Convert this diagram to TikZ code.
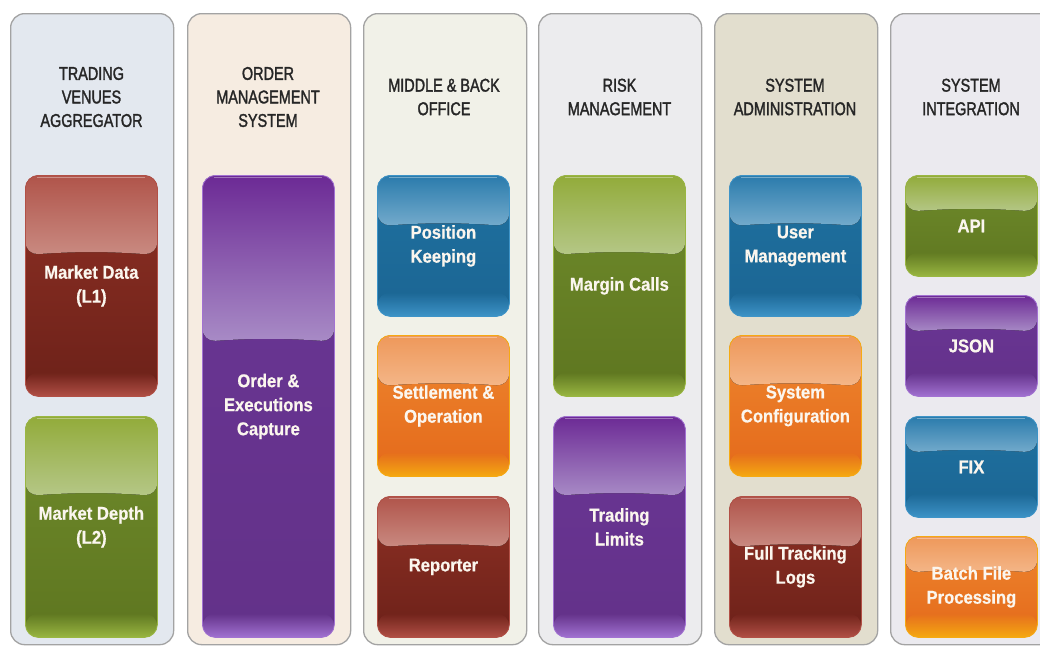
\documentclass[tikz,border=0pt]{standalone}
\usepackage{fontspec}
\newfontfamily\hdfont[FakeStretch=0.78,FakeBold=1.6]{Liberation Sans}
\newfontfamily\bxfont[FakeStretch=0.9,FakeBold=0.6]{Liberation Sans}
\usetikzlibrary{calc,fadings}
% panel colours
\definecolor{pA}{HTML}{E3E8EF}
\definecolor{pB}{HTML}{F6ECE1}
\definecolor{pC}{HTML}{F1F1E8}
\definecolor{pD}{HTML}{ECECEE}
\definecolor{pE}{HTML}{E2DECE}
\definecolor{pF}{HTML}{EBEAEF}
\definecolor{pBorder}{HTML}{A3A3A3}
\definecolor{hdText}{HTML}{262626}
\definecolor{bxText}{HTML}{FBF6EE}
% red
\definecolor{redGa}{HTML}{B0544A}\definecolor{redGb}{HTML}{C98A81}
\definecolor{redBa}{HTML}{8E3024}\definecolor{redBb}{HTML}{6C2119}\definecolor{redGl}{HTML}{B25046}
% green
\definecolor{grnGa}{HTML}{92AB3A}\definecolor{grnGb}{HTML}{B5C787}
\definecolor{grnBa}{HTML}{6F8B2B}\definecolor{grnBb}{HTML}{5E7620}\definecolor{grnGl}{HTML}{9AB742}
% purple
\definecolor{purGa}{HTML}{6C2A95}\definecolor{purGb}{HTML}{A88BC6}
\definecolor{purBa}{HTML}{6A3595}\definecolor{purBb}{HTML}{633289}\definecolor{purGl}{HTML}{A272D2}
% blue
\definecolor{bluGa}{HTML}{2A7BAC}\definecolor{bluGb}{HTML}{74ABCC}
\definecolor{bluBa}{HTML}{1F71A0}\definecolor{bluBb}{HTML}{1B6593}\definecolor{bluGl}{HTML}{3E94C8}
% orange
\definecolor{orgGa}{HTML}{EE985A}\definecolor{orgGb}{HTML}{F4B688}
\definecolor{orgBa}{HTML}{EE862F}\definecolor{orgBb}{HTML}{E4691A}\definecolor{orgGl}{HTML}{F6AA12}

\newcommand\glosspaint[3]{%
  \path (path picture bounding box.north west) coordinate (gnw)
        (path picture bounding box.south east) coordinate (gse);
  \fill[top color=#1, bottom color=#2]
    let \p1=(gnw), \p2=(gse), \n1={\y1+0.36*(\y2-\y1)} in
    (\x1,\y1) -- (\x1,\n1) to[bend left=4] (\x2,\n1) -- (\x2,\y1) -- cycle;
  \fill[#3, path fading=north]
    let \p1=(gnw), \p2=(gse) in
    (\x1,\y2+24pt) rectangle (\x2,\y2);
  \draw[white, opacity=0.35, line width=1pt]
    let \p1=(gnw), \p2=(gse) in
    (\x1+12pt,\y1-2pt) -- (\x2-12pt,\y1-2pt);
}

\tikzset{
  panel/.style={draw=pBorder, line width=1.3pt, rounded corners=14pt, anchor=north west,
    minimum width=163pt, minimum height=631pt, inner sep=0pt},
  hdr/.style={text=hdText, align=center, font=\hdfont\fontsize{18.5}{23.5}\selectfont, inner sep=0pt},
  gbox/.style={rounded corners=13pt, minimum width=132pt, anchor=north west, text=bxText,
    align=center, font=\bxfont\bfseries\fontsize{18.5}{24}\selectfont, inner sep=0pt, line width=0.8pt},
  redbox/.style={gbox, draw=redGl, top color=redBa, bottom color=redBb,
    path picture={\glosspaint{redGa}{redGb}{redGl}}},
  grnbox/.style={gbox, draw=grnGl, top color=grnBa, bottom color=grnBb,
    path picture={\glosspaint{grnGa}{grnGb}{grnGl}}},
  purbox/.style={gbox, draw=purGl, top color=purBa, bottom color=purBb,
    path picture={\glosspaint{purGa}{purGb}{purGl}}},
  blubox/.style={gbox, draw=bluGl, top color=bluBa, bottom color=bluBb,
    path picture={\glosspaint{bluGa}{bluGb}{bluGl}}},
  orgbox/.style={gbox, draw=orgGl, top color=orgBa, bottom color=orgBb,
    path picture={\glosspaint{orgGa}{orgGb}{orgGl}}},
}

\begin{document}
\begin{tikzpicture}[x=1pt, y=-1pt]
\useasboundingbox (0,0) rectangle (1040,646);
\clip (0,0) rectangle (1040,646);
\fill[white] (0,0) rectangle (1040,646);

% panels
\node[panel, fill=pA] (c1) at (10,13) {};
\node[panel, fill=pB] (c2) at (187,13) {};
\node[panel, fill=pC] (c3) at (363,13) {};
\node[panel, fill=pD] (c4) at (538,13) {};
\node[panel, fill=pE] (c5) at (714,13) {};
\node[panel, fill=pF] (c6) at (890,13) {};

% headers
\node[hdr] (h1) at (91.5,97) {TRADING\\VENUES\\AGGREGATOR};
\node[hdr] (h2) at (268,97) {ORDER\\MANAGEMENT\\SYSTEM};
\node[hdr] (h3) at (444,97) {MIDDLE \& BACK\\OFFICE};
\node[hdr] (h4) at (619.5,97) {RISK\\MANAGEMENT};
\node[hdr] (h5) at (795,97) {SYSTEM\\ADMINISTRATION};
\node[hdr] (h6) at (971,97) {SYSTEM\\INTEGRATION};

% column 1
\node[redbox, minimum height=221pt] (md) at (25,175) {Market Data\\(L1)};
\node[grnbox, minimum height=221pt] (mdp) at (25,416) {Market Depth\\(L2)};
% column 2
\node[purbox, minimum height=462pt] (oec) at (202,175) {Order \&\\Executions\\Capture};
% column 3
\node[blubox, minimum height=141pt] (pk) at (377,175) {Position\\Keeping};
\node[orgbox, minimum height=141pt] (so) at (377,335) {Settlement \&\\Operation};
\node[redbox, minimum height=141pt] (rep) at (377,496) {Reporter};
% column 4
\node[grnbox, minimum height=221pt] (mc) at (553,175) {Margin Calls};
\node[purbox, minimum height=221pt] (tl) at (553,416) {Trading\\Limits};
% column 5
\node[blubox, minimum height=141pt] (um) at (729,175) {User\\Management};
\node[orgbox, minimum height=141pt] (sc) at (729,335) {System\\Configuration};
\node[redbox, minimum height=141pt] (ftl) at (729,496) {Full Tracking\\Logs};
% column 6
\node[grnbox, minimum height=101pt] (api) at (905,175) {API};
\node[purbox, minimum height=101pt] (json) at (905,295) {JSON};
\node[blubox, minimum height=101pt] (fix) at (905,416) {FIX};
\node[orgbox, minimum height=101pt] (bfp) at (905,536) {Batch File\\Processing};
\end{tikzpicture}
\end{document}
